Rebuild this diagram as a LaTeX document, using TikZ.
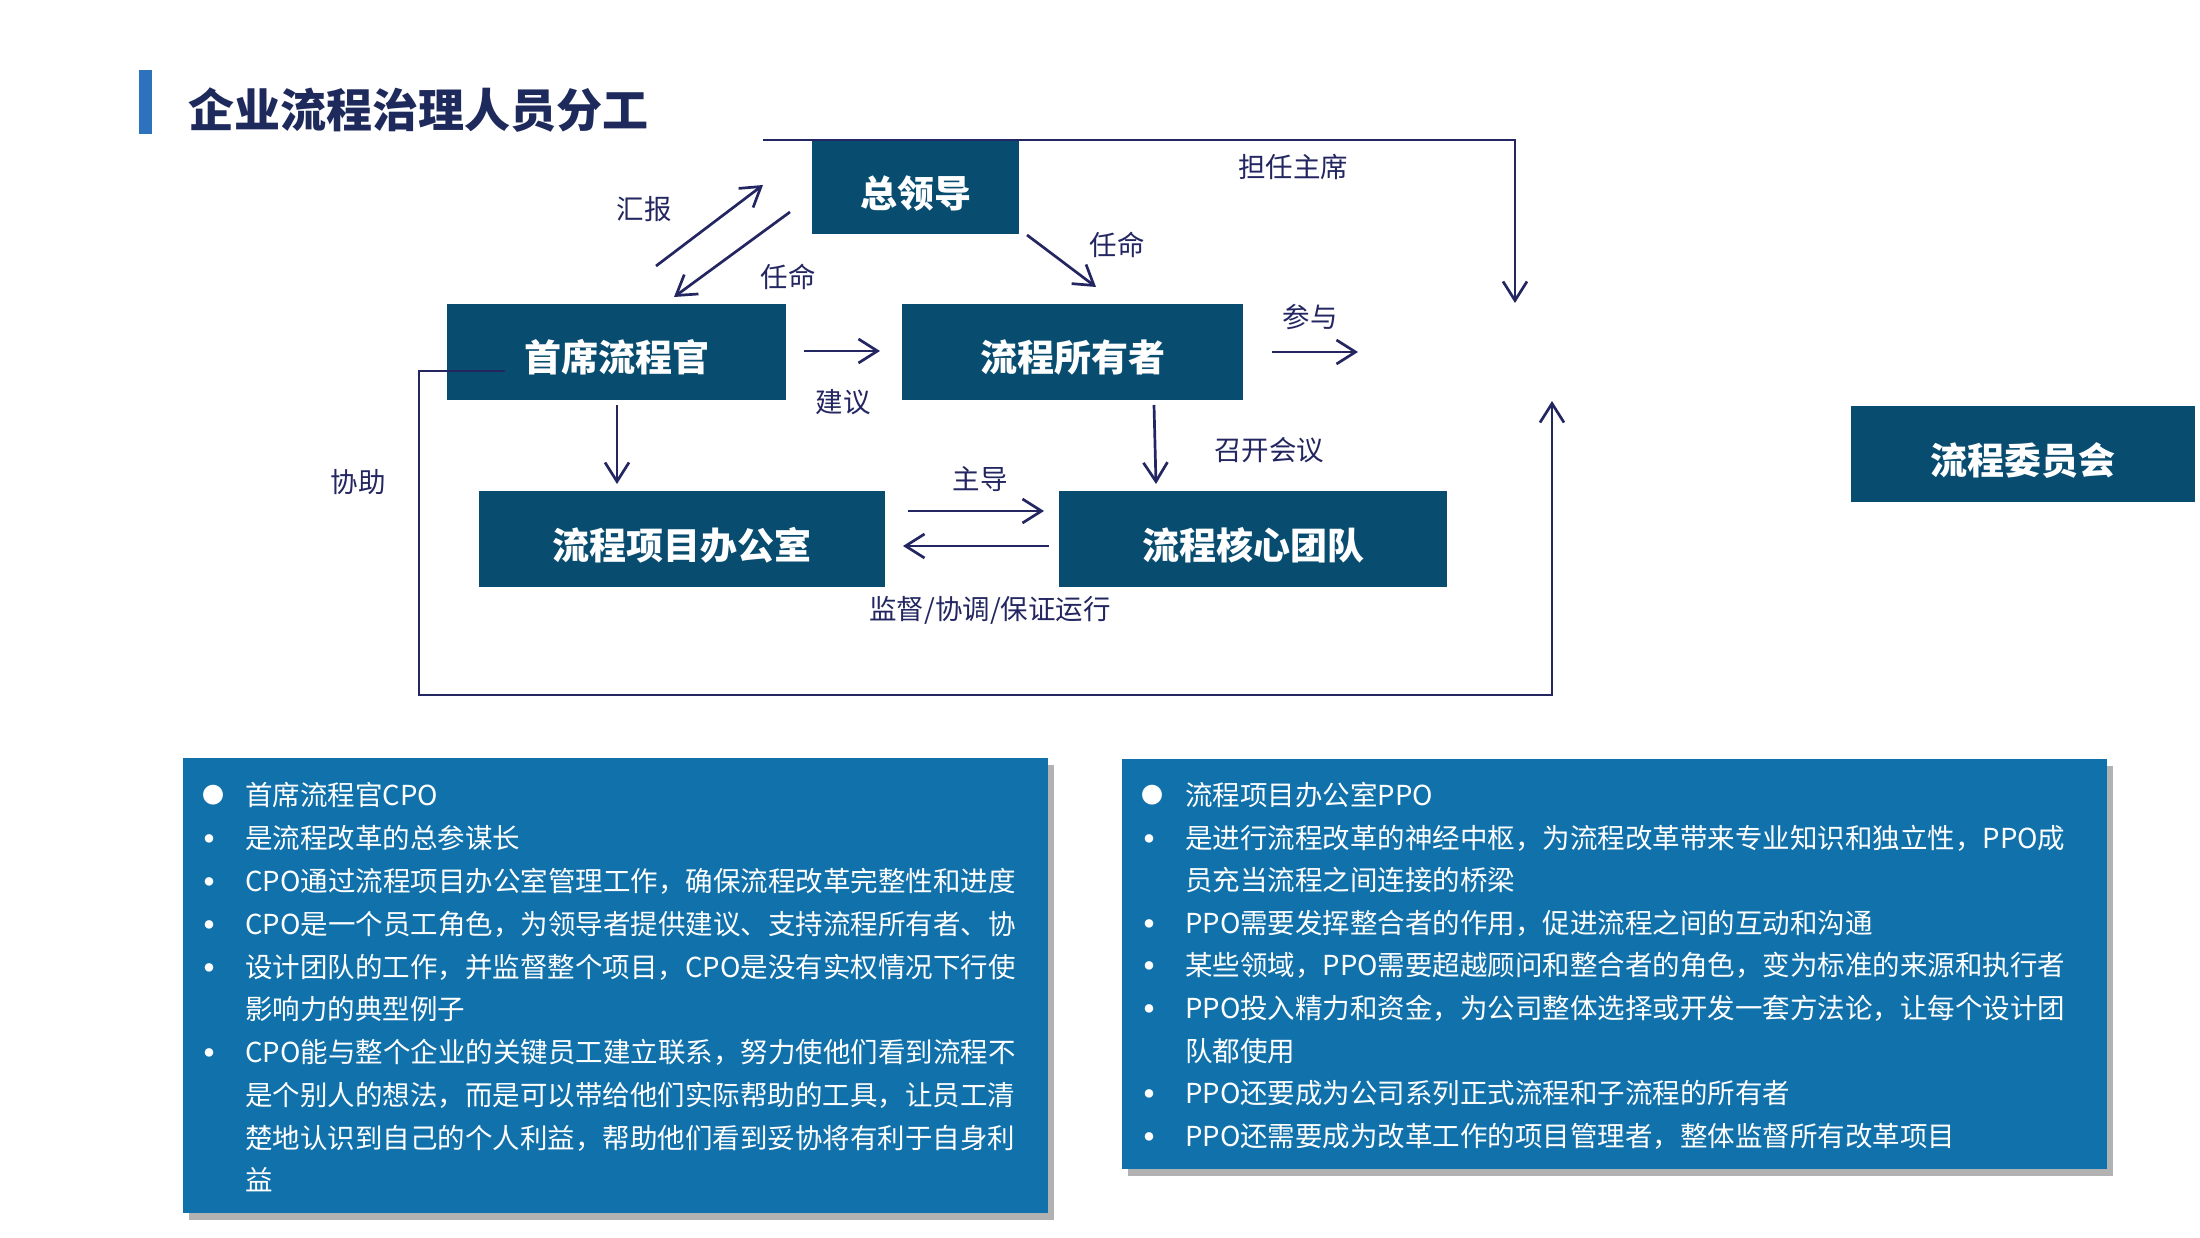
\documentclass[tikz,border=0pt]{standalone}
\usepackage{fontspec}
\setmainfont{Noto Sans CJK SC}
\usetikzlibrary{arrows.meta,shadows}
\definecolor{boxblue}{HTML}{084C70}
\definecolor{panelblue}{HTML}{1171AB}
\definecolor{navy}{HTML}{232660}
\definecolor{titlenavy}{HTML}{1F2A5C}
\definecolor{barblue}{HTML}{2E72BE}
\begin{document}
\begin{tikzpicture}[x=1pt,y=-1pt,
  box/.style={fill=boxblue,text=white,inner sep=0pt,text height=40pt,text depth=0pt,font=\fontsize{37}{40}\selectfont\bfseries},
  lbl/.style={text=navy,inner sep=0pt,font=\fontsize{27.5}{30}\selectfont},
  conn/.style={draw=navy,line width=2.7pt,-{Straight Barb[length=19pt,width=24pt]}},
  panel/.style={fill=panelblue,draw=none,drop shadow={shadow xshift=6pt,shadow yshift=-7pt,fill=black,opacity=0.3}},
  ptext/.style={text=white,inner sep=0pt,anchor=west,font=\fontsize{27.5}{30}\selectfont},
  bigdot/.style={text=white,inner sep=0pt,font=\fontsize{22}{30}\selectfont},
  smalldot/.style={text=white,inner sep=0pt,font=\fontsize{9.5}{12}\selectfont}
]
\useasboundingbox[fill=white] (0,0) rectangle (2200,1238);
% title
\fill[barblue] (139,70) rectangle (152,134);
\node[anchor=west,inner sep=0pt,text=titlenavy,font=\fontsize{46}{50}\selectfont\bfseries] (title) at (188,110) {企业流程治理人员分工};
% boxes
\node[box,minimum width=207pt,minimum height=93pt] (lead) at (915.5,187.5) {总领导};
\node[box,minimum width=339pt,minimum height=96pt] (cpo) at (616.5,352) {首席流程官};
\node[box,minimum width=341pt,minimum height=96pt] (owner) at (1072.5,352) {流程所有者};
\node[box,minimum width=406pt,minimum height=96pt] (ppo) at (682,539) {流程项目办公室};
\node[box,minimum width=388pt,minimum height=96pt] (core) at (1253,539) {流程核心团队};
\node[box,minimum width=344pt,minimum height=96pt] (comm) at (2023,454) {流程委员会};
% coordinates for free connector ends
\coordinate (rA) at (656,266); \coordinate (rB) at (763,185);
\coordinate (aA) at (790,212); \coordinate (aB) at (674,297);
\coordinate (bA) at (1027,235); \coordinate (bB) at (1096,287);
\coordinate (sA) at (804,351); \coordinate (sB) at (880,351);
\coordinate (pA) at (1272,352); \coordinate (pB) at (1358,352);
\coordinate (dA) at (617,405); \coordinate (dB) at (617,484);
\coordinate (eA) at (1154,405); \coordinate (eB) at (1156,484);
\coordinate (mA) at (908,511); \coordinate (mB) at (1044,511);
\coordinate (nA) at (1049,546); \coordinate (nB) at (903,546);
\coordinate (tA) at (763,140); \coordinate (tB) at (1515,303);
\coordinate (hA) at (505,371); \coordinate (hB) at (1552,401);
% connectors
\draw[conn] (rA) -- (rB);
\draw[conn] (aA) -- (aB);
\draw[conn] (bA) -- (bB);
\draw[conn] (sA) -- (sB);
\draw[conn] (pA) -- (pB);
\draw[conn] (dA) -- (dB);
\draw[conn] (eA) -- (eB);
\draw[conn] (mA) -- (mB);
\draw[conn] (nA) -- (nB);
\draw[conn] (tA) -| (tB);
\draw[conn] (hA) -- (419,371) -- (419,695) -- (1552,695) -- (hB);
% labels
\node[lbl] (l1) at (644,209) {汇报};
\node[lbl] (l2) at (788,277) {任命};
\node[lbl] (l3) at (1117,245) {任命};
\node[lbl] (l4) at (1293,167) {担任主席};
\node[lbl] (l5) at (1310,317) {参与};
\node[lbl] (l6) at (843,402) {建议};
\node[lbl] (l7) at (1269,450) {召开会议};
\node[lbl] (l8) at (358,482) {协助};
\node[lbl] (l9) at (980,479) {主导};
\node[lbl] (l10) at (990,610) {监督/协调/保证运行};
% left panel
\path[panel] (183,758) rectangle (1048,1213);
\node[bigdot] (lb1) at (213,795) {●};
\node[ptext] (lt1) at (245,795) {首席流程官CPO};
\node[smalldot] (lb2) at (209,839) {●};
\node[ptext] (lt2) at (245,838) {是流程改革的总参谋长};
\node[smalldot] (lb3) at (209,882) {●};
\node[ptext] (lt3) at (245,881) {CPO通过流程项目办公室管理工作，确保流程改革完整性和进度};
\node[smalldot] (lb4) at (209,925) {●};
\node[ptext] (lt4) at (245,924) {CPO是一个员工角色，为领导者提供建议、支持流程所有者、协};
\node[smalldot] (lb5) at (209,968) {●};
\node[ptext] (lt5) at (245,967) {设计团队的工作，并监督整个项目，CPO是没有实权情况下行使};
\node[ptext] (lt6) at (245,1009) {影响力的典型例子};
\node[smalldot] (lb7) at (209,1053) {●};
\node[ptext] (lt7) at (245,1052) {CPO能与整个企业的关键员工建立联系，努力使他们看到流程不};
\node[ptext] (lt8) at (245,1095) {是个别人的想法，而是可以带给他们实际帮助的工具，让员工清};
\node[ptext] (lt9) at (245,1138) {楚地认识到自己的个人利益，帮助他们看到妥协将有利于自身利};
\node[ptext] (lt10) at (245,1180) {益};
% right panel
\path[panel] (1122,759) rectangle (2107,1169);
\node[bigdot] (rb1) at (1152,795) {●};
\node[ptext] (rt1) at (1185,795) {流程项目办公室PPO};
\node[smalldot] (rb2) at (1149,839) {●};
\node[ptext] (rt2) at (1185,838) {是进行流程改革的神经中枢，为流程改革带来专业知识和独立性，PPO成};
\node[ptext] (rt3) at (1185,880) {员充当流程之间连接的桥梁};
\node[smalldot] (rb4) at (1149,924) {●};
\node[ptext] (rt4) at (1185,923) {PPO需要发挥整合者的作用，促进流程之间的互动和沟通};
\node[smalldot] (rb5) at (1149,966) {●};
\node[ptext] (rt5) at (1185,965) {某些领域，PPO需要超越顾问和整合者的角色，变为标准的来源和执行者};
\node[smalldot] (rb6) at (1149,1009) {●};
\node[ptext] (rt6) at (1185,1008) {PPO投入精力和资金，为公司整体选择或开发一套方法论，让每个设计团};
\node[ptext] (rt7) at (1185,1051) {队都使用};
\node[smalldot] (rb8) at (1149,1094) {●};
\node[ptext] (rt8) at (1185,1093) {PPO还要成为公司系列正式流程和子流程的所有者};
\node[smalldot] (rb9) at (1149,1137) {●};
\node[ptext] (rt9) at (1185,1136) {PPO还需要成为改革工作的项目管理者，整体监督所有改革项目};
\end{tikzpicture}
\end{document}
